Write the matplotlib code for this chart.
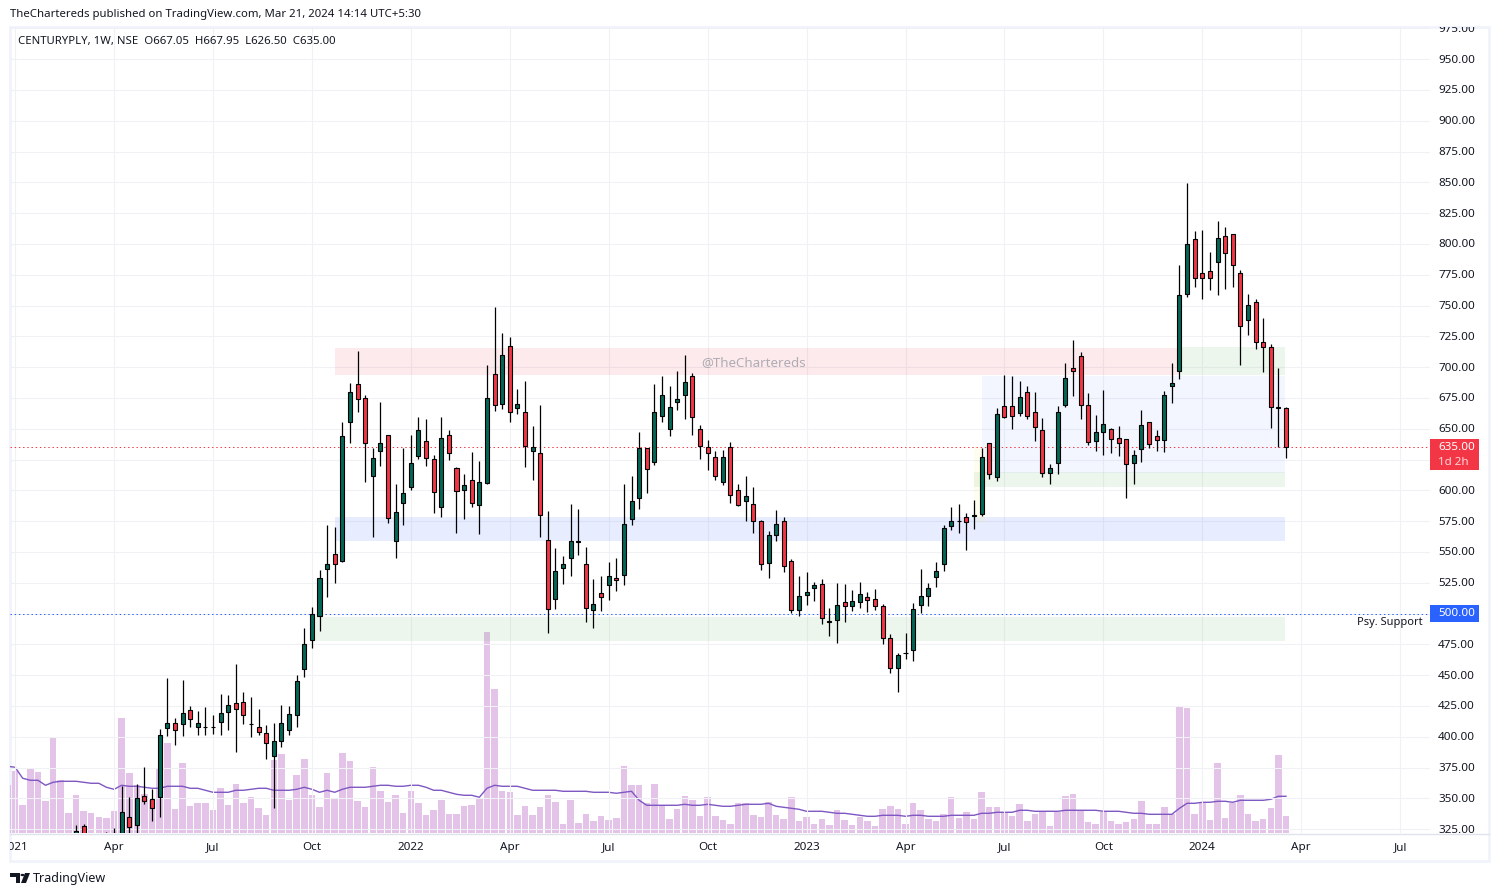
import numpy as np
import pandas as pd
import matplotlib
matplotlib.use("Agg")
import matplotlib.pyplot as plt
import matplotlib.dates as mdates
from matplotlib.patches import Rectangle, Circle, Polygon
from matplotlib.transforms import Bbox, ScaledTranslation

plt.rcParams['font.family'] = ['Noto Sans', 'DejaVu Sans']

# weekly candles, visible from mid Jan 2021 up to the last bar
opens = [319,327.8,318,316,318,320,318,334.6,328,351.6,349.2,350.8,406.8,410.9,410.1,421.4,407.6,407.5,407.5,411.7,
         419.8,427.1,427.9,410,407.6,402.8,384.1,396.3,405.2,417.9,454.7,478.3,497.7,535.9,548,
         542.4,655.2,686,674.7,611.4,631.7,644.6,558.6,589.5,602.4,627.6,639.8,625.2,586.2,644.6,617.9,600,608.1,587.8,605.7,
         694.2,669.8,716.9,666.6,663.3,631.7,630,559.4,511.5,536.7,544.8,557.8,539.9,502.6,516.4,522.9,528.6,531,576.5,593.5,
         634,622.7,660,649.5,671.4,677.1,692.5,649.5,634.9,626.8,606.5,634.9,600,591,588.6,574.8,540.7,563.4,574.8,542.3,
         502.6,514.7,520.4,523.7,493.6,494.5,509,505.8,509,513.1,511.5,505.8,479.8,455.5,467.6,470.1,506.6,513.9,529.4,539.9,
         571.3,574.7,578,579.5,580.5,638.1,610.5,668.1,668.1,662.5,679.5,663.3,648.7,613.8,621.9,669,699,708.7,669,639.7,
         647,649.5,642.2,641.4,621.9,633.2,655.1,643.8,640.5,684.4,696.6,759.1,803.7,776.1,777.7,785,806.2,807.8,776.1,738,
         752.6,720.1,716.1,667.3,667.05]
highs = [328,328.9,320,319,323,326,360.3,351.4,362,375.4,357.8,406,447.4,414.9,446,425,420.9,423.9,417.7,434.7,
         433.9,459,436.3,432.3,422.5,409.3,411.2,425.8,425,450.1,488.3,505.3,535.3,571.9,570.3,
         655.5,686.9,713.1,677.4,634.4,671.7,644.6,605.1,634.4,644.9,659.5,657.9,628.7,659.5,649,618.9,613.3,631.1,623.8,701.7,
         748.8,727.7,724.5,682.3,688.8,652.2,669.3,583.2,553.2,546.7,588.9,584.9,554,528,530.5,541.8,545.1,605.1,611.6,647.4,
         634,686.3,692.8,684.7,696.8,709.8,695.2,653,640.8,631.9,632.7,639.2,605.1,611.6,602.7,575.6,566.7,584,578.3,544,
         530.4,533.7,525.6,528,504.5,524.8,524,519.1,525.6,517.5,519.9,507.4,483.4,467.9,484.2,508.3,536.1,524.8,541.8,571.6,
         586.4,588.9,581.5,592.1,634.3,638.1,666.5,693.6,692.8,688.7,684.6,679.8,658.4,621.3,668.4,703.3,722,712,679,661.1,
         681.4,650.3,652.2,641.4,632.7,665.2,655.1,648.9,680.6,703.3,782.9,849.4,810.5,811.3,793.4,818.6,813.7,807.8,778.8,759.3,
         755.3,739.9,718.8,699.3,667.95]
lows = [315,315,312,312,312,314,312,318,318,345.7,331.9,335.1,400.9,393.3,400.9,407.9,401.4,401.4,402.2,401.4,
        405.5,387.6,410.3,399.8,401.4,381.9,342,391.7,401.4,407.9,448.5,472,485.8,513.4,524.8,
        542,638.4,663.6,606.8,562.1,619.8,573.5,545.1,571.9,600.3,625.4,619.8,581.6,578.4,624.6,565.4,576.7,586.5,564.6,605.4,
        664.4,666,655.5,662,618.9,608.4,562.1,484.2,503.4,524,530.5,547.5,493.1,488.2,502.1,511,518.3,523.2,571.9,584.9,
        597.8,620.5,655.4,644,665.2,657.9,644.9,625.4,616.5,608.4,604.3,589.7,587,575.1,565.3,535.3,528.8,558.8,533.7,500.4,
        498,506.9,510.1,491.5,481.7,476,493.1,502,504.5,500.9,502.8,475.2,451.7,436.3,463.1,461.4,500.4,506.1,521.5,534.5,
        567.8,565.3,551.5,568.6,579.1,608.9,607.8,658.4,650,660.6,658.1,640.3,611.1,605.1,613.2,667.9,676.5,657.9,636.8,631.9,
        628.6,630.3,627.8,593.7,605.1,623,634.3,631.9,631.1,670.8,690.4,756.9,765,755.3,762.6,758.5,763.4,765,701.7,726.1,
        714.7,696,650.6,635.2,626.5]
closes = [323.8,318,316,318,320,322,338.6,327,350,347.6,341.9,401.1,410.9,405.2,419,414.1,410.9,407.7,407.7,419,
          425.5,422.2,417.4,410.2,403.6,394.6,396.3,410.9,418.2,444.9,475,499.4,528.6,539.9,539.9,
          643.8,679.5,673.9,638.2,626,638.2,577.3,582.1,597.6,621.9,648.7,626,598.4,642.2,630,599.2,604,589.5,606.5,674.7,
          669,709.6,663.3,669.8,635.7,634.9,579.7,503.4,534.3,539.9,558.6,558.6,504.2,507.5,513.1,530.2,527,572.4,591.1,634.1,
          617,663.3,677.1,667.3,673.8,687.6,659.2,635.7,630,611.3,626.8,595.9,587.8,595.1,574.8,539.9,563.4,572.4,538.3,502.6,
          513.9,517.2,522.9,496.1,492.8,506.6,505.8,509.9,515.6,510.7,505.8,479.8,455.5,466,467.8,503.4,513.9,520.4,534.2,569.1,
          575,574.9,574.5,579.9,626.7,612.9,661.6,659.2,660,675.4,660,651.1,613.8,617.8,663.3,690.9,696.6,669,638.9,647,
          653.5,641.4,638.1,621.1,628.4,652.7,637.3,640.5,677.1,686.8,758.3,799.7,772.1,772.1,772.1,804.5,792.4,782.6,733.1,750.1,
          720.1,716.1,667.4,666.5,635]

# volume bars and their average, from the first visible week, in thousands of shares
volumes = [48,62,28,65,61,32,96,53,20,38,22,20,16,15,22,115,60,48,39,33,64,90,24,70,27,30,30,23,45,28,49,30,36,25,18,
           73,79,33,58,74,38,26,60,35,80,72,32,26,66,42,31,38,20,42,30,18,23,33,19,19,27,28,35,201,144,
           42,41,18,27,18,26,38,31,9,33,10,19,12,17,13,15,67,48,48,30,49,28,14,24,37,33,17,36,17,13,9,30,30,18,16,31,18,14,36,
           12,16,9,14,8,23,13,8,16,12,7,24,27,24,9,30,23,14,12,19,36,15,21,14,41,
           26,26,21,17,29,12,19,21,7,21,37,39,23,11,9,21,12,9,11,14,32,9,9,26,19,127,125,19,30,13,70,15,30,38,19,12,14,25,78,17]
vol_ma = [67,66,55,53,53,48,51,52,52,52,51,50,50,46,44,48,47,47,46,45,45,47,47,47,45,45,43,41,41,41,43,43,44,45,45,
          43,43,43,44,46,44,41,43,41,44,46,46,46,47,48,48,47,47,48,48,46,43,43,41,39,38,38,36,45,48,
          47,47,47,45,43,43,43,43,42,42,42,42,41,41,41,40,41,42,33,28,28,28,28,28,29,28,28,29,28,27,27,28,29,29,29,30,27,26,25,
          24,22,22,22,21,20,20,19,18,17,17,18,18,18,17,18,18,17,17,17,18,18,18,18,20,
          20,21,21,21,23,23,22,22,22,22,23,23,23,23,23,22,22,22,21,20,20,19,19,19,19,25,30,30,31,31,32,32,31,33,33,33,33,34,37,37]

last_bar = pd.Timestamp('2024-03-18')
price_ticks = np.arange(325, 976, 25)
hidden_prices = [500, 625]  # sit under the price labels
time_ticks = ['2021-01-04', '2021-04-05', '2021-07-05', '2021-10-04', '2022-01-03', '2022-04-04', '2022-07-04',
              '2022-10-03', '2023-01-02', '2023-04-03', '2023-07-03', '2023-10-02', '2024-01-01', '2024-04-01', '2024-07-01']
time_labels = ['2021', 'Apr', 'Jul', 'Oct', '2022', 'Apr', 'Jul', 'Oct', '2023', 'Apr', 'Jul', 'Oct', '2024', 'Apr', 'Jul']

# start, end, low, high, colour, alpha
zones = [
    ('2021-10-25', '2023-12-10', 693.8, 715.8, '#f23645', 0.10),
    ('2023-12-10', '2024-03-17', 693.8, 716.0, '#4caf50', 0.10),
    ('2021-10-25', '2024-03-17', 559.0, 578.3, '#2962ff', 0.11),
    ('2021-10-06', '2024-03-17', 478.0, 497.0, '#4caf50', 0.10),
    ('2023-06-12', '2024-03-17', 614.0, 693.0, '#2962ff', 0.055),
    ('2023-06-05', '2024-03-17', 603.0, 614.5, '#4caf50', 0.10),
    ('2023-06-05', '2023-06-16', 574.0, 635.0, '#ffeb3b', 0.08),
]

W, H = 1500, 896
FS = 8.4
HEAD_FS = 8.2
grid_col = '#f0f1f5'
frame_col = '#f0f3fa'
text_col = '#131722'
up_col, down_col = '#056656', '#f23645'

dates = pd.date_range(end=last_bar, periods=len(volumes), freq='7D')
candle_dates = dates[-len(opens):]
opens, highs, lows, closes = map(np.array, (opens, highs, lows, closes))


def fx(x):
    return x / W


def fy(y):
    return 1 - y / H


fig = plt.figure(figsize=(W / 100, H / 100), dpi=100, facecolor='white')
rect = [fx(10), fy(833.3), fx(1430 - 10), (833.3 - 27) / H]

ax_vol = fig.add_axes(rect, zorder=1)
ax = fig.add_axes(rect, zorder=2)
ax.patch.set_visible(False)

xlim = (mdates.date2num(last_bar) - 167.67 * 7, mdates.date2num(last_bar) + 18.92 * 7)

# volume pane, 806 units tall so it overlays the lower part of the price chart
ax_vol.bar(dates, volumes, width=6.0, color='#ce93d8', alpha=0.55, linewidth=0)
ax_vol.plot(dates, vol_ma, color='#7e57c2', lw=1)
ax_vol.set_xlim(xlim)
ax_vol.set_ylim(0, 806)
ax_vol.axis('off')

for start, end, lo, hi, col, a in zones:
    ax.fill_between(pd.to_datetime([start, end]), lo, hi, color=col, alpha=a, linewidth=0, zorder=1)

ax.axhline(closes[-1], color=down_col, lw=0.72, ls=(0, (1.4, 2.8)), zorder=2)
ax.axhline(500, color='#2962ff', lw=0.72, ls=(0, (1.4, 2.8)), zorder=2)

# candles
rising = closes >= opens
ax.vlines(candle_dates, lows, highs, color='black', lw=0.9, zorder=3)
ax.bar(candle_dates, np.abs(closes - opens), bottom=np.minimum(opens, closes), width=3.7,
       color=np.where(rising, up_col, down_col), edgecolor='black', linewidth=0.8, zorder=4)

ax.set_xlim(xlim)
ax.set_ylim(321.6, 976.1)
ax.set_yticks(price_ticks)
ax.set_yticklabels(['' if v in hidden_prices else f'{v:.2f}' for v in price_ticks])
ax.yaxis.tick_right()
ax.set_xticks(pd.to_datetime(time_ticks))
ax.set_xticklabels(time_labels)
ax.tick_params(axis='both', length=0, labelcolor=text_col, labelsize=FS)
ax.tick_params(axis='y', pad=5.8)
ax.tick_params(axis='x', pad=6.5)
ax.grid(True, color=grid_col, lw=0.8, zorder=0)
ax.set_axisbelow(True)
for s in ax.spines.values():
    s.set_visible(False)

# labels get cut by the scale panes, like the 975 and 325 prices and the 2021 date
y_clip = Bbox([[1430, H - 833.3], [1489, H - 27]])
x_clip = Bbox([[10, H - 860], [1430, H - 833.3]])
nudge_up = ScaledTranslation(0, 0.5 / 100, fig.dpi_scale_trans)
for lab in ax.get_yticklabels():
    lab.set_clip_box(y_clip)
    lab.set_clip_on(True)
    lab.set_transform(lab.get_transform() + nudge_up)
for lab in ax.get_xticklabels():
    lab.set_clip_box(x_clip)
    lab.set_clip_on(True)
    if lab.get_text().isdigit():
        lab.set_fontweight('bold')

# frame round the chart
fig.add_artist(Rectangle((fx(10), fy(860.5)), fx(1479), (860.5 - 27) / H, fill=False, ec=frame_col, lw=2,
                         transform=fig.transFigure))
fig.add_artist(plt.Line2D([fx(10), fx(1489)], [fy(833.5)] * 2, color='#e0e3eb', lw=1))

# price labels
fig.add_artist(Rectangle((fx(1430), fy(469.7)), fx(49), 30.7 / H, fc=down_col, ec='none', transform=fig.transFigure, zorder=5))
fig.add_artist(Rectangle((fx(1430), fy(621.7)), fx(49), 16.7 / H, fc='#2962ff', ec='none', transform=fig.transFigure, zorder=5))
fig.text(fx(1438), fy(447.5), f'{closes[-1]:.2f}', color='white', fontsize=FS, va='center', zorder=6)
fig.text(fx(1438), fy(462), '1d 2h', color='#ffd5d9', fontsize=FS, va='center', zorder=6)
fig.text(fx(1438), fy(613.5), '500.00', color='white', fontsize=FS, va='center', zorder=6)

fig.text(fx(1423), fy(622.5), 'Psy. Support', color=text_col, fontsize=8.0, ha='right', va='center')
ax.text(pd.Timestamp('2022-09-27'), 703.5, '@TheChartereds', color='#9598a1', alpha=0.75, fontsize=9.6, va='center', ha='left')

fig.text(fx(10), fy(14.5), 'TheChartereds published on TradingView.com, Mar 21, 2024 14:14 UTC+5:30',
         color=text_col, fontsize=HEAD_FS, va='center')
fig.text(fx(18), fy(41.5), 'CENTURYPLY, 1W, NSE  O667.05  H667.95  L626.50  C635.00', color=text_col, fontsize=HEAD_FS, va='center')

# TradingView logo
fig.add_artist(Polygon([(fx(10), fy(873)), (fx(20), fy(873)), (fx(20), fy(883)), (fx(16), fy(883)), (fx(16), fy(877)), (fx(10), fy(877))],
                       fc=text_col, ec='none', transform=fig.transFigure))
fig.add_artist(Polygon([(fx(25), fy(873)), (fx(30), fy(873)), (fx(26), fy(883)), (fx(21), fy(883))],
                       fc=text_col, ec='none', transform=fig.transFigure))
fig.add_artist(Circle((fx(22.5), fy(875)), 2 / W, fc=text_col, ec='none', transform=fig.transFigure))
fig.text(fx(33), fy(878.5), 'TradingView', color=text_col, fontsize=9, va='center')

fig.savefig('out.png', dpi=100)
